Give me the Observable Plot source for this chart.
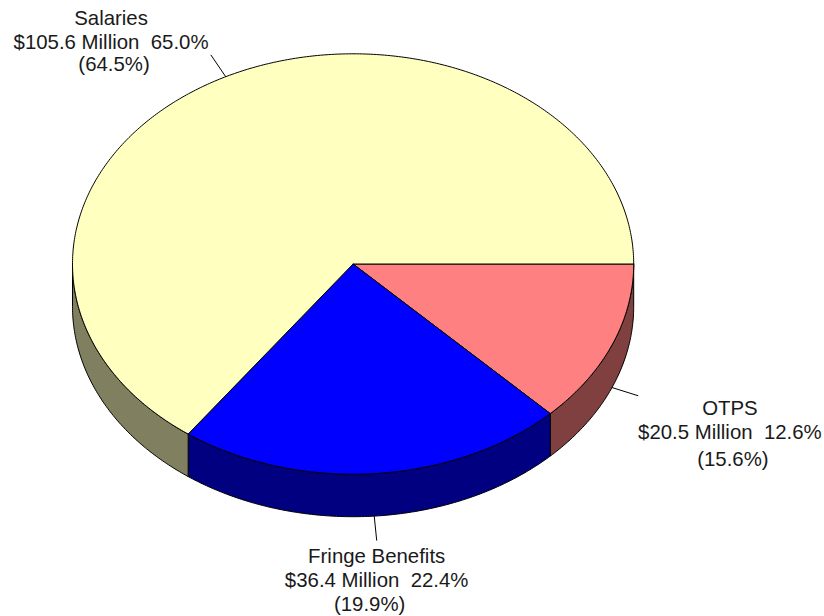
<!DOCTYPE html>
<html>
<head>
<meta charset="utf-8">
<script src="https://cdn.jsdelivr.net/npm/d3@7"></script>
<script src="https://cdn.jsdelivr.net/npm/@observablehq/plot@0.6"></script>
<style>
html,body{margin:0;padding:0;background:#fff}
svg{display:block}
</style>
</head>
<body>
<div id="chart"></div>
<script>
// Data, in drawing order (clockwise from the 3 o'clock position)
const categories = ["OTPS", "Fringe Benefits", "Salaries"];
const amounts = ["$20.5 Million", "$36.4 Million", "$105.6 Million"];
const shares = [12.6, 22.4, 65.0];
const priorShares = ["(15.6%)", "(19.9%)", "(64.5%)"];

// Styles
const topColors = ["#FF8080", "#0000FF", "#FFFFC0"];
const sideColors = ["#804040", "#000080", "#808060"];

// Layout
const W = 824, H = 616, cx = 352.6, cy = 263.5, rx = 280.6, ry = 210.2, depth = 42.5;
const depthUnit = depth / ry;
const leaderFactors = [1.1, 1.115, 1.115];
const labelDx = [[92, 92, 95], [0, 0, -7], [-100, -100, -97]]; // px offset of each line's centre from leader end
const labelDy = [[13, 37, 64], [16, 40, 64], [-37, -13, 9]];   // px offset of each line

const total = d3.sum(shares);
let acc = 0;
const slices = categories.map((name, i) => {
  const a0 = acc / total * 2 * Math.PI;
  acc += shares[i];
  const a1 = acc / total * 2 * Math.PI;
  return {name, i, a0, a1, mid: (a0 + a1) / 2};
});

function arc(a0, a1, off) {
  const n = Math.max(2, Math.ceil((a1 - a0) / 0.01));
  return d3.range(n + 1).map(k => {
    const a = a0 + (a1 - a0) * k / n;
    return {x: Math.cos(a), y: Math.sin(a) + off};
  });
}

const topPts = slices.flatMap(s => [
  {x: 0, y: 0}, ...arc(s.a0, s.a1, 0), {x: 0, y: 0}
].map(p => ({...p, z: s.name, color: topColors[s.i]})));

const sidePts = slices.flatMap(s => {
  const a1 = Math.min(s.a1, Math.PI);
  if (s.a0 >= Math.PI) return [];
  const upper = arc(s.a0, a1, 0);
  const lower = arc(s.a0, a1, depthUnit).reverse();
  return [...upper, ...lower, upper[0]].map(p => ({...p, z: s.name, color: sideColors[s.i]}));
});

const leaderPts = slices.flatMap(s => {
  const off = Math.sin(s.mid) > 0 ? depthUnit : 0;
  return [1, leaderFactors[s.i]].map(f => ({
    x: Math.cos(s.mid) * f,
    y: Math.sin(s.mid) * f + off,
    z: s.name
  }));
});

const labelMarks = slices.flatMap(s => {
  const off = Math.sin(s.mid) > 0 ? depthUnit : 0;
  const f = leaderFactors[s.i];
  const anchor = {x: Math.cos(s.mid) * f, y: Math.sin(s.mid) * f + off};
  const pct = shares[s.i].toFixed(1) + "%";
  const lines = [s.name, amounts[s.i] + "\u00A0\u00A0" + pct, priorShares[s.i]];
  return lines.map((t, j) => Plot.text([anchor], {
    x: "x", y: "y", text: () => t,
    dx: labelDx[s.i][j], dy: labelDy[s.i][j],
    fill: "#1a1a1a", fontSize: 20.4, textAnchor: "middle", lineAnchor: "middle"
  }));
});

const chart = Plot.plot({
  width: W, height: H,
  margin: 0,
  style: {fontFamily: "'Liberation Sans', Arial, sans-serif", background: "#fff"},
  x: {domain: [-cx / rx, (W - cx) / rx], range: [0, W], axis: null},
  y: {domain: [-cy / ry, (H - cy) / ry], range: [0, H], axis: null},
  marks: [
    Plot.line(leaderPts, {x: "x", y: "y", z: "z", stroke: "#000", strokeWidth: 1}),
    Plot.line(sidePts, {x: "x", y: "y", z: "z", fill: "color", stroke: "#000", strokeWidth: 1}),
    Plot.line(topPts, {x: "x", y: "y", z: "z", fill: "color", stroke: "#000", strokeWidth: 1}),
    ...labelMarks
  ]
});
document.getElementById("chart").appendChild(chart);
</script>
</body>
</html>
